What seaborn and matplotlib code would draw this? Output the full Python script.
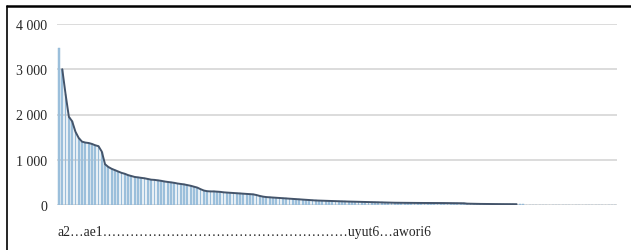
import numpy as np
import pandas as pd
import matplotlib
matplotlib.use("Agg")
import matplotlib.pyplot as plt
import seaborn as sns
from matplotlib.lines import Line2D

# valores (ordenados de mayor a menor)
head_values = [3460, 3000, 2450, 1950, 1850, 1620, 1480, 1400, 1380, 1370,
               1350, 1320, 1300, 1180, 900, 840, 800, 770, 740, 710,
               690, 660, 640, 620, 610, 600, 590, 575, 560, 555,
               545, 535, 520, 510, 500, 490, 475, 465, 455, 440,
               425, 405, 385, 350, 320, 305, 300]
mid_values = [300, 295, 290, 280, 275, 270, 265, 260, 255, 250,
              245, 240, 235, 220, 200, 185, 175, 170, 165, 160,
              155, 150, 145, 140, 135, 130, 125, 120, 115, 110,
              105, 100, 98, 95, 92, 90, 88, 85, 82, 80,
              78, 76, 74, 72, 70, 68, 66, 64, 62, 60,
              58, 56, 55, 54, 52, 50]
low_values = [50, 49, 48, 47, 47, 46, 46, 45, 45, 45,
              44, 44, 44, 43, 43, 42, 42, 41, 40, 40, 38]
tail_values = [30, 28, 26, 25, 24, 23, 22, 22, 21, 21,
               20, 20, 19, 19, 18, 18]
zero_values = [12, 12, 11, 11, 11, 10, 10, 10, 10, 9,
               9, 9, 9, 8, 8, 8, 8, 8, 7, 7,
               7, 7, 7, 6, 6, 6, 6, 6, 6, 5]

values = head_values + mid_values + low_values + tail_values + zero_values
line_end = 140  # la línea de tendencia termina aquí

y_ticks = [0, 1000, 2000, 3000, 4000]
x_caption = "a2…ae1" + "…" * 18 + "uyut6…awori6"

df = pd.DataFrame({"idx": np.arange(len(values)), "valor": values})

sns.set_theme(style="white")
plt.rcParams["font.family"] = ["Liberation Serif", "DejaVu Serif"]

fig = plt.figure(figsize=(6.31, 2.51), dpi=100)
ax = fig.add_axes([57 / 631, 45 / 251, 560 / 631, 181 / 251])

ax.yaxis.grid(True, color="#d9d9d9", linewidth=1.3, zorder=0)
ax.set_axisbelow(True)

sns.barplot(data=df, x="idx", y="valor", color="#9fc2de", width=0.55,
            saturation=1, edgecolor="#8fb4d2", linewidth=0.3, ax=ax, zorder=2)

trend = df.iloc[1:line_end]
ax.plot(trend["idx"], trend["valor"], color="#44546a", linewidth=1.4, zorder=3)

ax.set_ylim(0, 4000)
ax.set_xlim(-0.6, len(values) - 0.5)
ax.set_yticks(y_ticks)
ax.set_yticklabels([f"{v:,}".replace(",", " ") for v in y_ticks], fontsize=10)
ax.set_xticks([])
ax.set_xlabel("")
ax.set_ylabel("")
ax.tick_params(axis="y", length=0, pad=7)
for spine in ax.spines.values():
    spine.set_visible(False)

fig.text(58 / 631, 1 - 233 / 251, x_caption, fontsize=9.8, ha="left", va="center")

# marco del recuadro (solo borde superior e izquierdo visibles)
fig.add_artist(Line2D([6.5 / 631, 1], [1 - 7 / 251, 1 - 7 / 251],
                      color="black", linewidth=1.8, transform=fig.transFigure))
fig.add_artist(Line2D([6.5 / 631, 6.5 / 631], [0, 1 - 7 / 251],
                      color="black", linewidth=1.2, transform=fig.transFigure))

plt.savefig("out.png", dpi=100)
plt.close()
